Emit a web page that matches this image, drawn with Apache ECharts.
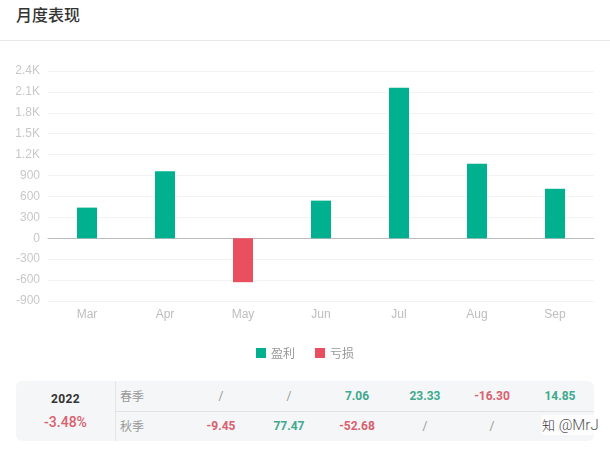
<!DOCTYPE html>
<html>
<head>
<meta charset="utf-8">
<script src="https://cdn.jsdelivr.net/npm/echarts@6/dist/echarts.min.js"></script>
<style>
html,body{margin:0;padding:0;background:#fff;width:610px;height:455px;overflow:hidden;font-family:Roboto,"Noto Sans CJK SC",sans-serif;}
.title{position:absolute;left:16px;top:3px;font-size:16px;line-height:22px;font-weight:500;color:#333;font-family:"Noto Sans CJK SC",sans-serif;}
.line{position:absolute;left:0;top:40px;width:610px;height:1px;background:#e8e8e8;}
#chart{position:absolute;left:0;top:41px;width:610px;height:330px;}
.panel{position:absolute;left:16px;top:381px;width:578px;height:60px;background:#f4f6f7;border-radius:6px;}
.year{position:absolute;left:0;top:0;width:99px;height:60px;border-right:1px solid #e3e5e7;text-align:center;}
.year b{position:absolute;left:0;width:99px;top:10px;font-size:12px;line-height:16px;color:#333;font-weight:700;letter-spacing:.4px;}
.year span{position:absolute;left:0;width:99px;top:32px;font-size:14px;line-height:18px;color:#d9606f;font-weight:500;}
.row{position:absolute;left:100px;width:478px;height:30px;}
.row.r1{top:0;border-bottom:1px solid #e0e2e4;height:30px;}
.row.r2{top:30px;}
.row .name{position:absolute;left:4px;top:0;line-height:30px;font-size:12px;color:#999;font-family:"Noto Sans CJK SC",sans-serif;}
.row .cell{position:absolute;width:60px;text-align:center;top:0;line-height:30px;font-size:12px;font-weight:700;}
.up{color:#3fa98e;}
.down{color:#d9606f;}
.none{color:#999;font-weight:400 !important;}
.mark{position:absolute;left:541px;top:415px;padding:0 2px 0 1px;background:rgba(255,255,255,.8);font-size:15px;line-height:20px;color:#555;font-weight:300;border-radius:3px;}
.mark i{font-size:13px;color:#333;font-style:normal;font-family:"Noto Sans CJK SC",sans-serif;}
</style>
</head>
<body>
<div class="title">月度表现</div>
<div class="line"></div>
<div id="chart"></div>
<div class="panel" id="panel"></div>
<div class="mark"><i>知</i> @MrJ</div>
<script>
var months = ['Mar','Apr','May','Jun','Jul','Aug','Sep'];
var profit = [440,960,null,540,2160,1070,710];
var loss = [null,null,-630,null,null,null,null];
var tableYear = '2022';
var tableTotal = '-3.48%';
var seasonNames = ['春季','秋季'];
var spring = ['/','/','7.06','23.33','-16.30','14.85'];
var autumn = ['-9.45','77.47','-52.68','/','/','/'];

//k为单位的刻度
function formatTick(v){
	if (Math.abs(v) >= 1000) {
		return (v/1000).toFixed(1) + 'K';
	}
	return v;
}

function drawChart(node){
	var options = {
		animation:false,
		legend:{
			bottom:7,
			left:'center',
			itemWidth:10,
			itemHeight:10,
			itemGap:20,
			icon:'rect',
			textStyle:{color:'#999',fontSize:12,fontFamily:'"Noto Sans CJK SC",sans-serif'},
			data:['盈利','亏损']
		},
		grid:{left:48,right:16,top:30,bottom:70},
		xAxis:{
			type:'category',
			data:months,
			axisTick:{show:false},
			axisLine:{onZero:true,lineStyle:{color:'#bbb',width:1}},
			axisLabel:{color:'#bdbdbd',fontSize:12,margin:8,fontWeight:500}
		},
		yAxis:{
			type:'value',
			min:-900,
			max:2400,
			interval:300,
			axisLabel:{color:'#c8c8c8',fontSize:12,margin:8,formatter:formatTick},
			splitLine:{lineStyle:{color:'#f3f3f3',width:1}},
			axisLine:{show:false},
			axisTick:{show:false}
		},
		series:[
			{name:'盈利',type:'bar',stack:'a',barWidth:20,data:profit,itemStyle:{color:'#00b08f'}},
			{name:'亏损',type:'bar',stack:'a',barWidth:20,data:loss,itemStyle:{color:'#ea4f5f'}}
		]
	};
	var Chart = echarts.init(node);
	Chart.setOption(options);
}

function cellClass(text){
	if (text === '/') {
		return 'none';
	}
	return text.charAt(0) === '-' ? 'down' : 'up';
}

function drawTable(node){
	var html = '<div class="year"><b>'+tableYear+'</b><span>'+tableTotal+'</span></div>';
	var rows = [spring,autumn];
	var centers = [105,173,241,309,376,444]; //相对行的列中心
	for (var i = 0; i < rows.length; i++) {
		html += '<div class="row r'+(i+1)+'"><div class="name">'+seasonNames[i]+'</div>';
		for (var j = 0; j < rows[i].length; j++) {
			html += '<div class="cell '+cellClass(rows[i][j])+'" style="left:'+(centers[j]-30)+'px">'+rows[i][j]+'</div>';
		}
		html += '</div>';
	}
	node.innerHTML = html;
}

drawChart(document.getElementById('chart'));
drawTable(document.getElementById('panel'));
</script>
</body>
</html>
